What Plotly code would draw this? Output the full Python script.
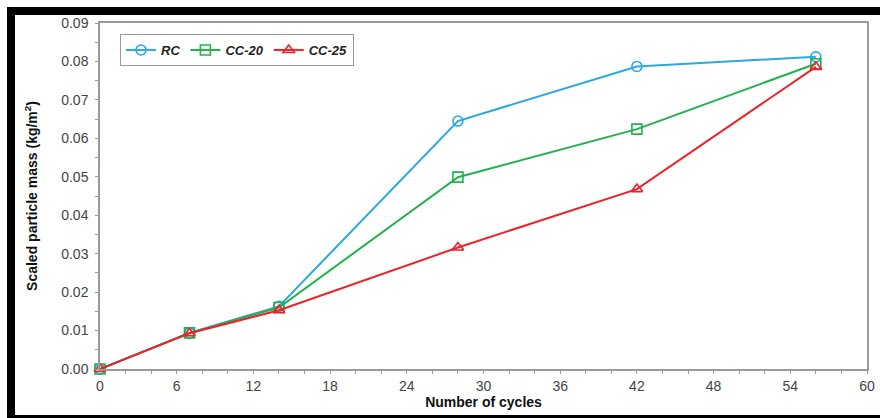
import plotly.graph_objects as go

# Cycle counts and scaled particle mass for each concrete mix
cycles = [0, 7, 14, 28, 42, 56]
rc = [0.0, 0.0094, 0.0163, 0.0645, 0.0787, 0.0812]
cc20 = [0.0, 0.0094, 0.0160, 0.0499, 0.0624, 0.0794]
cc25 = [0.0, 0.0093, 0.0153, 0.0316, 0.0468, 0.0786]

series_names = ["RC", "CC-20", "CC-25"]
series_values = [rc, cc20, cc25]
series_colors = ["#29A9E0", "#22B14C", "#EC2328"]
series_symbols = ["circle-open", "square-open", "triangle-up-open"]

W, H = 880, 418
ML, MR, MT, MB = 100, 13, 23, 49
PW, PH = W - ML - MR, H - MT - MB


def px_x(px):
    return (px - ML) / PW


def px_y(py):
    return (H - MB - py) / PH


fig = go.Figure()
for name, vals, col, sym in zip(series_names, series_values, series_colors, series_symbols):
    fig.add_trace(go.Scatter(
        x=cycles, y=vals, name=name, mode="lines+markers",
        line=dict(color=col, width=2),
        marker=dict(symbol=sym, size=10, color=col, line=dict(width=1.6, color=col)),
        cliponaxis=False,
    ))

axis_common = dict(
    showgrid=False, zeroline=False, showline=True, mirror=True,
    linecolor="#9a9a9a", linewidth=1.5, automargin=False,
    ticks="outside", ticklen=3, tickcolor="#9a9a9a", tickwidth=1,
    tickfont=dict(family="Liberation Sans, Arial", size=14, color="#444444"),
)

fig.update_xaxes(
    range=[0, 60], dtick=6, tick0=0,
    minor=dict(dtick=2, ticks="outside", ticklen=3, tickcolor="#9a9a9a"),
    title=dict(text="Number of cycles", standoff=4,
               font=dict(family="Liberation Sans, Arial", size=14, color="#111111", weight="bold")),
    **axis_common,
)
fig.update_yaxes(
    range=[0, 0.09], dtick=0.01, tick0=0, tickformat=".2f", ticklabelstandoff=4,
    minor=dict(dtick=0.005, ticks="outside", ticklen=3, tickcolor="#9a9a9a"),
    title=dict(text="Scaled particle mass (kg/m<sup>2</sup>)", standoff=20,
               font=dict(family="Liberation Sans, Arial", size=14, color="#111111", weight="bold")),
    **axis_common,
)

# Black frame around the figure (top, left, bottom edges)
frame = [
    (7, 7, 885, 15),
    (7, 7, 15, 425),
    (7, 415, 885, 425),
]
for x0, y0, x1, y1 in frame:
    fig.add_shape(type="rect", xref="paper", yref="paper",
                  x0=px_x(x0), x1=px_x(x1), y0=px_y(y1), y1=px_y(y0),
                  fillcolor="black", line=dict(width=0), layer="above")

fig.update_layout(
    width=W, height=H,
    margin=dict(l=ML, r=MR, t=MT, b=MB),
    paper_bgcolor="white", plot_bgcolor="white",
    showlegend=True,
    legend=dict(
        orientation="h", x=px_x(120), y=px_y(34), xanchor="left", yanchor="top",
        bordercolor="#9a9a9a", borderwidth=1, bgcolor="white",
        font=dict(family="Liberation Sans, Arial", size=13, color="#222222",
                  weight="bold", style="italic"),
        itemwidth=30, tracegroupgap=0,
    ),
)

fig.write_html("out.html")
